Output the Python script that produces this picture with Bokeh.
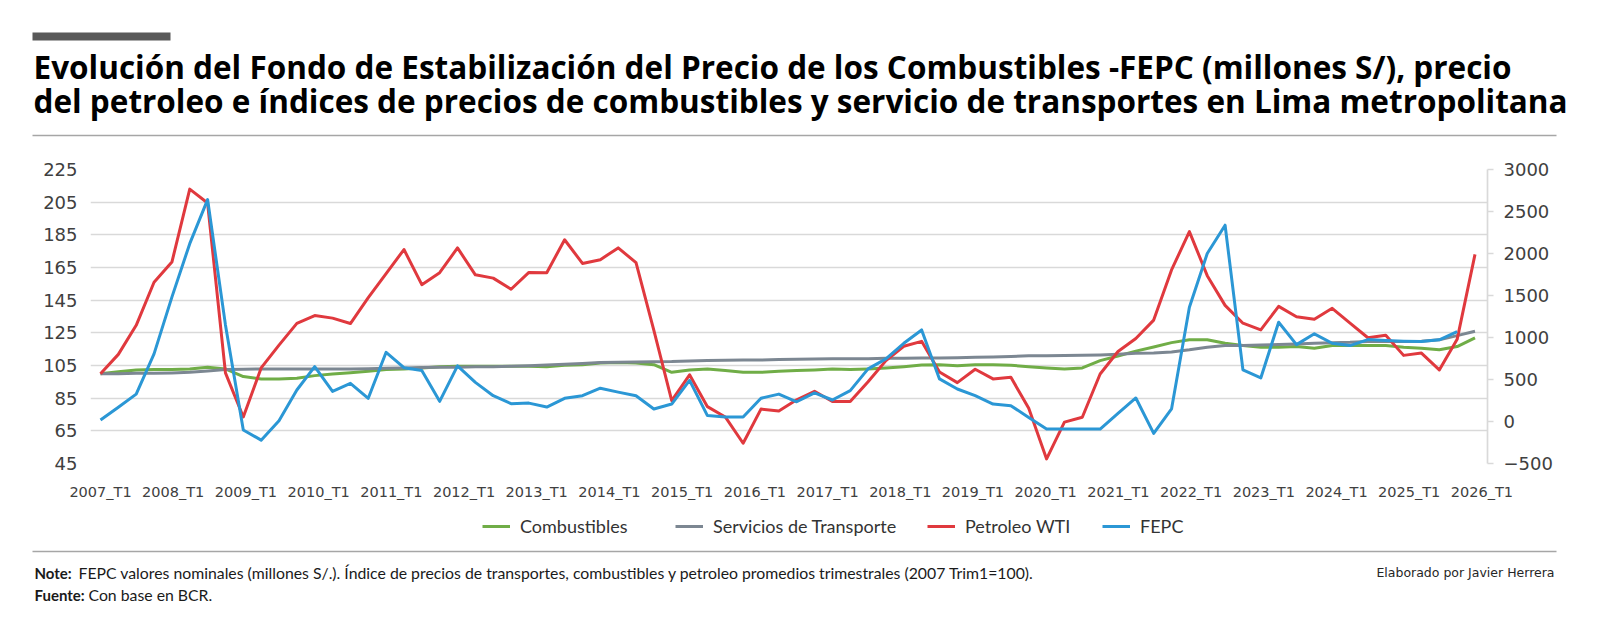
import math
from bokeh.plotting import figure
from bokeh.layouts import column
from bokeh.models import (Range1d, LinearAxis, FixedTicker, Label, BoxAnnotation,
                          Legend, LegendItem, ColumnDataSource, CustomJSTickFormatter)
from bokeh.embed import file_html
from bokeh.resources import INLINE

# ---- data -------------------------------------------------------------
years = list(range(2007, 2027))
quarters = [f"{y}_T{q}" for y in years for q in range(1, 5)][:78]
tick_labels = [f"{y}_T1" for y in years]

# price indices (2007 T1 = 100), left axis
combustibles = [
    100.0, 101.2, 102.2, 102.5, 102.5, 102.9, 103.9, 102.9, 98.2, 96.8,
    96.8, 97.2, 98.8, 99.8, 100.6, 101.5, 102.5, 102.9, 103.5, 104.3,
    104.5, 104.5, 104.5, 104.5, 104.5, 104.3, 105.1, 105.5, 106.6, 106.8,
    106.6, 105.5, 100.8, 102.3, 102.9, 101.9, 100.8, 100.8, 101.5, 101.9,
    102.3, 102.9, 102.5, 102.9, 103.5, 104.3, 105.3, 105.5, 104.9, 105.5,
    105.5, 105.1, 104.3, 103.5, 102.9, 103.5, 108.0, 110.8, 113.8, 116.3,
    119.0, 120.7, 120.8, 118.6, 117.2, 116.2, 116.2, 116.6, 115.6, 117.2,
    117.2, 117.2, 117.2, 116.2, 115.6, 114.6, 116.6, 121.9,
]
servicios = [
    100.0, 100.0, 100.2, 100.2, 100.4, 100.8, 101.6, 102.5, 102.7, 102.9,
    102.9, 102.9, 102.9, 102.9, 102.9, 103.0, 103.3, 103.5, 103.7, 104.0,
    104.0, 104.2, 104.3, 104.5, 104.9, 105.3, 105.7, 106.2, 106.8, 107.0,
    107.2, 107.3, 107.4, 107.8, 108.0, 108.2, 108.4, 108.4, 108.6, 108.8,
    109.0, 109.1, 109.2, 109.2, 109.4, 109.4, 109.6, 109.6, 109.8, 110.0,
    110.2, 110.5, 110.9, 110.9, 111.1, 111.3, 111.5, 111.9, 112.5, 112.7,
    113.3, 114.6, 116.2, 117.2, 117.2, 117.6, 117.8, 118.2, 118.6, 119.0,
    119.2, 119.7, 119.7, 119.7, 119.9, 120.7, 123.3, 126.0,
]
petroleo = [
    100.0, 111.8, 129.6, 156.0, 168.3, 213.0, 204.5, 100.5, 73.5, 103.5,
    117.5, 130.8, 135.6, 134.0, 130.7, 146.5, 161.3, 176.0, 154.5, 161.8,
    177.0, 160.5, 158.5, 151.7, 162.0, 161.8, 182.0, 167.5, 169.8, 177.0,
    168.0, 126.5, 83.5, 99.3, 79.8, 73.5, 57.4, 78.3, 77.2, 84.0,
    89.2, 83.0, 82.9, 95.0, 108.0, 116.8, 119.8, 101.0, 94.5, 102.7,
    96.8, 97.8, 78.8, 47.8, 70.3, 73.3, 99.8, 113.6, 121.5, 132.8,
    163.5, 187.0, 160.0, 141.8, 130.9, 126.8, 141.2, 134.8, 133.3, 140.0,
    131.0, 122.0, 123.5, 111.2, 112.6, 102.3, 121.0, 173.0,
]
# FEPC, millones S/ (right axis); last quarter has no value yet
fepc = [
    17, 169, 326, 805, 1481, 2117, 2642, 1150, -101, -222,
    9, 375, 653, 359, 455, 276, 824, 640, 606, 240,
    662, 466, 307, 212, 219, 172, 276, 307, 396, 350,
    307, 148, 208, 490, 70, 53, 53, 276, 326, 235,
    340, 256, 367, 626, 745, 931, 1090, 507, 387, 307,
    208, 188, 49, -90, -90, -90, -90, 97, 280, -142,
    150, 1361, 2000, 2337, 614, 518, 1182, 915, 1044, 931,
    904, 975, 964, 956, 952, 972, 1070, math.nan,
]

left_ticks = list(range(45, 226, 20))
right_ticks = list(range(-500, 3001, 500))

series_names = ["Combustibles", "Servicios de Transporte", "Petroleo WTI", "FEPC"]
title_lines = [
    "Evolución del Fondo de Estabilización del Precio de los Combustibles -FEPC (millones S/), precio",
    "del petroleo e índices de precios de combustibles y servicio de transportes en Lima metropolitana",
]
note_text = ("FEPC valores nominales (millones S/.).  Índice de precios de transportes, "
             "combustibles y petroleo promedios trimestrales (2007 Trim1=100).")
source_text = "Con base en BCR."
credit_text = "Elaborado por Javier Herrera"

# ---- page geometry (canvas pixels) -----------------------------------
W = 1600
TOP_H = 145                # header strip
MAIN_BOTTOM = 510          # end of the chart strip
FOOT_H = 625 - MAIN_BOTTOM
FL, FR, FT, FB = 90, 1487, 169, 463
LABEL_STEP = 4.073          # spacing of the yearly labels along the quarter axis
LABEL_FONT = "DejaVu Sans"
TEXT_FONT = "Lato"

GREEN, GREY, RED, BLUE = "#70ad47", "#7c8792", "#e0393e", "#2b97d5"
COLORS = [GREEN, GREY, RED, BLUE]
LEGEND_X = [482, 675, 927, 1102]   # left end of each legend key


def blank_strip(height, y_top, y_bottom):
    f = figure(width=W, height=height, output_backend="svg", toolbar_location=None,
               x_range=Range1d(0, W), y_range=Range1d(y_bottom, y_top),
               min_border_left=0, min_border_right=0, min_border_top=0, min_border_bottom=0,
               frame_align=False)
    f.axis.visible = False
    f.grid.visible = False
    f.outline_line_color = None
    f.background_fill_color = "white"
    f.border_fill_color = "white"
    return f


# ---- header ------------------------------------------------------------
top = blank_strip(TOP_H, 0, TOP_H)
top.add_layout(BoxAnnotation(left=32, right=170, top=32, bottom=40,
                             fill_color="#595959", fill_alpha=1, line_color=None))
top.add_layout(BoxAnnotation(left=32, right=1556, top=134.2, bottom=135.8,
                             fill_color="#a6a6a6", fill_alpha=1, line_color=None))
for line, base in zip(title_lines, (66, 100)):
    top.add_layout(Label(x=33, y=base, text=line, text_font="Open Sans",
                         text_font_style="bold", text_font_size="31.5px",
                         text_color="#000000", text_baseline="alphabetic",
                         text_align="left"))

# ---- chart -------------------------------------------------------------
src = ColumnDataSource(dict(
    idx=list(range(len(quarters))), quarter=quarters,
    combustibles=combustibles, servicios=servicios,
    petroleo=petroleo, fepc=fepc,
))

p = figure(width=W, height=MAIN_BOTTOM - TOP_H, output_backend="svg", toolbar_location=None,
           x_range=Range1d(-0.56, 77.7), y_range=Range1d(45, 225),
           min_border_left=FL, min_border_right=W - FR,
           min_border_top=FT - TOP_H, min_border_bottom=MAIN_BOTTOM - FB,
           frame_align=False)
p.outline_line_color = None
p.background_fill_color = "white"
p.border_fill_color = "white"
p.extra_y_ranges = {"fepc": Range1d(-500, 3000)}

p.yaxis.ticker = FixedTicker(ticks=left_ticks)
p.yaxis.axis_line_color = None
p.yaxis.major_tick_line_color = None
p.yaxis.minor_tick_line_color = None
p.yaxis.major_tick_out = 0
p.yaxis.major_label_standoff = 13
p.yaxis.major_label_text_font = LABEL_FONT
p.yaxis.major_label_text_font_size = "18px"
p.yaxis.major_label_text_color = "#404040"

ax_r = LinearAxis(y_range_name="fepc", ticker=FixedTicker(ticks=right_ticks))
ax_r.axis_line_color = "#d9d9d9"
ax_r.axis_line_width = 1.7
ax_r.major_tick_line_color = "#d9d9d9"
ax_r.major_tick_line_width = 1.7
ax_r.major_tick_out = 6
ax_r.major_tick_in = 0
ax_r.minor_tick_line_color = None
ax_r.major_label_standoff = 10
ax_r.major_label_text_font = LABEL_FONT
ax_r.major_label_text_font_size = "18px"
ax_r.major_label_text_color = "#404040"
p.add_layout(ax_r, "right")

p.xaxis.ticker = FixedTicker(ticks=[k * LABEL_STEP for k in range(len(tick_labels))])
p.xaxis.formatter = CustomJSTickFormatter(
    args=dict(labels=tick_labels, step=LABEL_STEP),
    code="return labels[Math.round(tick / step)] || '';")
p.xaxis.axis_line_color = None
p.xaxis.major_tick_line_color = None
p.xaxis.minor_tick_line_color = None
p.xaxis.major_tick_out = 0
p.xaxis.major_label_standoff = 20
p.xaxis.major_label_text_font = LABEL_FONT
p.xaxis.major_label_text_font_size = "14.5px"
p.xaxis.major_label_text_color = "#404040"

p.xgrid.grid_line_color = None
p.ygrid.ticker = FixedTicker(ticks=left_ticks)
p.ygrid.grid_line_color = "#d9d9d9"
p.ygrid.grid_line_width = 1.7

for col, color in zip(["combustibles", "servicios", "petroleo"], COLORS[:3]):
    p.line("idx", col, source=src, color=color, line_width=3, line_join="round")
p.line("idx", "fepc", source=src, color=BLUE, line_width=3, line_join="round",
       y_range_name="fepc")

# ---- footer: legend, notes, credit -------------------------------------
foot = blank_strip(FOOT_H, MAIN_BOTTOM, 625)
for name, color, lx in zip(series_names, COLORS, LEGEND_X):
    key = foot.line(x=[math.nan], y=[math.nan], color=color, line_width=3)
    foot.add_layout(Legend(
        items=[LegendItem(label=name, renderers=[key])],
        orientation="horizontal", location=(lx, 625 - 537),
        border_line_color=None, background_fill_alpha=0, padding=0, margin=0,
        glyph_width=28, glyph_height=20, label_height=20, label_standoff=10,
        label_text_font=TEXT_FONT, label_text_font_size="18px",
        label_text_color="#333333"))
foot.add_layout(BoxAnnotation(left=32, right=1556, top=550.2, bottom=551.8,
                              fill_color="#a6a6a6", fill_alpha=1, line_color=None))

for txt, style, size, xx, base in [("Note:", "bold", "15px", 34, 572),
                                   (note_text, "normal", "15.8px", 78, 572),
                                   ("Fuente:", "bold", "15px", 34, 594),
                                   (source_text, "normal", "15.8px", 88, 594)]:
    foot.add_layout(Label(x=xx, y=base, text=txt, text_font=TEXT_FONT, text_font_style=style,
                          text_font_size=size, text_color="#1a1a1a",
                          text_baseline="alphabetic", text_align="left"))
foot.add_layout(Label(x=1554, y=572, text=credit_text, text_font=LABEL_FONT,
                      text_font_size="12.5px", text_color="#262626",
                      text_baseline="alphabetic", text_align="right"))

page = column(top, p, foot, spacing=0)
open("out.html", "w").write(file_html(page, INLINE))
